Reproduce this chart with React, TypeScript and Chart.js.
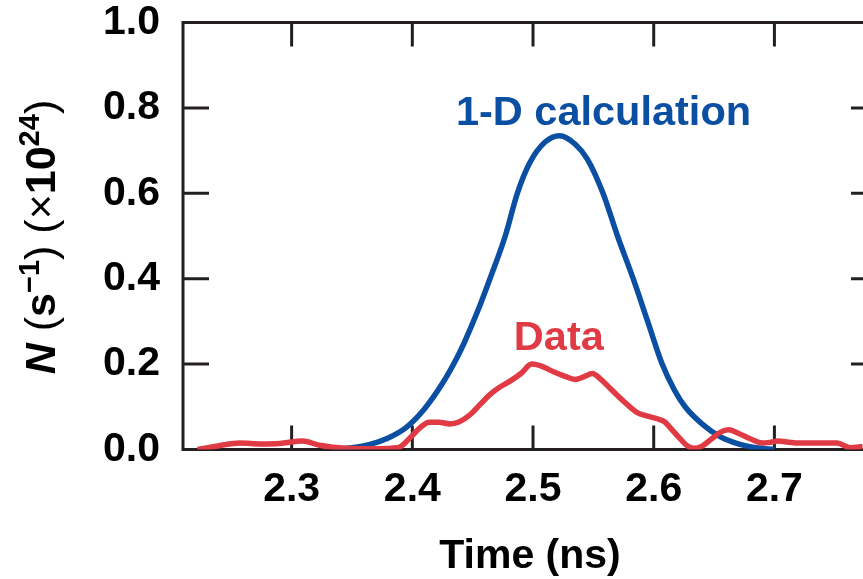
import React, { useEffect, useRef } from "react";
import { Chart, registerables } from "chart.js";

Chart.register(...registerables);

// ---- data ----
const X_TICKS = [2.3, 2.4, 2.5, 2.6, 2.7];
const Y_TICKS = [0, 0.2, 0.4, 0.6, 0.8, 1.0];

const CALC_T = [2.335, 2.35, 2.365, 2.38, 2.395, 2.41, 2.425, 2.437, 2.443, 2.455, 2.465, 2.477, 2.487, 2.497, 2.51, 2.522, 2.535, 2.545, 2.558, 2.57, 2.583, 2.595, 2.607, 2.617, 2.626, 2.64, 2.655, 2.67, 2.685, 2.7];
const CALC_N = [0.0, 0.004, 0.012, 0.027, 0.052, 0.095, 0.155, 0.215, 0.25, 0.33, 0.405, 0.5, 0.6, 0.67, 0.72, 0.735, 0.715, 0.68, 0.6, 0.5, 0.4, 0.3, 0.2, 0.14, 0.1, 0.06, 0.03, 0.013, 0.004, 0.0];

const DATA_T = [2.222, 2.24, 2.257, 2.275, 2.29, 2.309, 2.323, 2.345, 2.37, 2.388, 2.399, 2.406, 2.414, 2.422, 2.431, 2.439, 2.448, 2.456, 2.464, 2.472, 2.481, 2.49, 2.499, 2.508, 2.517, 2.526, 2.535, 2.542, 2.549, 2.556, 2.564, 2.575, 2.586, 2.595, 2.603, 2.609, 2.614, 2.622, 2.628, 2.633, 2.64, 2.648, 2.655, 2.662, 2.67, 2.68, 2.69, 2.697, 2.703, 2.712, 2.72, 2.735, 2.752, 2.763, 2.773];
const DATA_N = [0.0, 0.009, 0.015, 0.013, 0.014, 0.02, 0.01, 0.003, 0.002, 0.004, 0.03, 0.05, 0.064, 0.064, 0.06, 0.065, 0.082, 0.105, 0.128, 0.145, 0.16, 0.178, 0.2, 0.194, 0.182, 0.172, 0.164, 0.17, 0.178, 0.165, 0.143, 0.113, 0.087, 0.078, 0.072, 0.065, 0.05, 0.025, 0.008, 0.003, 0.008, 0.025, 0.04, 0.046, 0.038, 0.025, 0.015, 0.017, 0.02, 0.017, 0.015, 0.015, 0.015, 0.004, 0.007];

const CALC_LABEL = "1-D calculation";
const DATA_LABEL = "Data";
const X_TITLE = "Time (ns)";

const FONT = "'Liberation Sans', Arial, Helvetica, sans-serif";
const BLUE = "#0b4fa2";
const RED = "#e03a45";
const AXIS = "#231f20";

const framePlugin = {
  id: "frame",
  beforeDatasetsDraw(chart: any) {
    const { ctx, chartArea, scales } = chart;
    const { left, right, top, bottom } = chartArea;
    ctx.save();
    ctx.strokeStyle = AXIS;
    ctx.lineWidth = 3;
    ctx.strokeRect(left, top, right - left, bottom - top);
    ctx.beginPath();
    X_TICKS.forEach((v) => {
      const px = scales.x.getPixelForValue(v);
      ctx.moveTo(px, bottom);
      ctx.lineTo(px, bottom - 24);
      ctx.moveTo(px, top);
      ctx.lineTo(px, top + 24);
    });
    Y_TICKS.forEach((v) => {
      const py = scales.y.getPixelForValue(v);
      ctx.moveTo(left, py);
      ctx.lineTo(left + 26, py);
      ctx.moveTo(right, py);
      ctx.lineTo(right - 26, py);
    });
    ctx.stroke();
    ctx.restore();
  },
};

const labelPlugin = {
  id: "labels",
  afterDatasetsDraw(chart: any) {
    const { ctx, scales } = chart;
    ctx.save();
    ctx.textAlign = "center";
    ctx.textBaseline = "alphabetic";
    ctx.font = `bold 41.5px ${FONT}`;
    ctx.fillStyle = BLUE;
    ctx.fillText(CALC_LABEL, scales.x.getPixelForValue(2.5584), scales.y.getPixelForValue(0.76));
    ctx.fillStyle = RED;
    ctx.fillText(DATA_LABEL, scales.x.getPixelForValue(2.5214), scales.y.getPixelForValue(0.233));
    ctx.restore();
  },
};

const Y_TITLE_SEGS = [
  { t: "N", f: `italic bold 43px ${FONT}`, dy: 0 },
  { t: " ", f: `bold 43px ${FONT}`, dy: 0 },
  { t: "(", f: `43px ${FONT}`, dy: 0 },
  { t: "s", f: `bold 43px ${FONT}`, dy: 0 },
  { t: "\u22121", f: `bold 29px ${FONT}`, dy: -16 },
  { t: ")", f: `43px ${FONT}`, dy: 0 },
  { t: " ", f: `bold 43px ${FONT}`, dy: 0 },
  { t: "(", f: `43px ${FONT}`, dy: 0 },
  { t: "\u00d7", f: `43px ${FONT}`, dy: 0 },
  { t: "10", f: `bold 43px ${FONT}`, dy: 0 },
  { t: "24", f: `bold 29px ${FONT}`, dy: -16 },
  { t: ")", f: `43px ${FONT}`, dy: 0 },
];

const yTitlePlugin = {
  id: "ytitle",
  afterDraw(chart: any) {
    const { ctx } = chart;
    ctx.save();
    ctx.fillStyle = "#000";
    ctx.textBaseline = "alphabetic";
    ctx.textAlign = "left";
    let total = 0;
    const widths = Y_TITLE_SEGS.map((s) => {
      ctx.font = s.f;
      const w = ctx.measureText(s.t).width;
      total += w;
      return w;
    });
    ctx.translate(55, 237);
    ctx.rotate(-Math.PI / 2);
    let x = -total / 2;
    Y_TITLE_SEGS.forEach((s, i) => {
      ctx.font = s.f;
      ctx.fillText(s.t, x, s.dy);
      x += widths[i];
    });
    ctx.restore();
  },
};

export default function App() {
  const ref = useRef<HTMLCanvasElement | null>(null);
  useEffect(() => {
    if (!ref.current) return;
    const chart = new Chart(ref.current, {
      type: "line",
      data: {
        datasets: [
          {
            label: "Data",
            data: DATA_T.map((t, i) => ({ x: t, y: DATA_N[i] })),
            borderColor: RED,
            borderWidth: 5.5,
            pointRadius: 0,
            cubicInterpolationMode: "monotone",
            fill: false,
            order: 0,
          },
          {
            label: "1-D calculation",
            data: CALC_T.map((t, i) => ({ x: t, y: CALC_N[i] })),
            borderColor: BLUE,
            borderWidth: 5.5,
            pointRadius: 0,
            cubicInterpolationMode: "monotone",
            fill: false,
            order: 1,
          },
        ],
      },
      options: {
        animation: false,
        responsive: false,
        maintainAspectRatio: false,
        layout: { padding: { top: 22.5, right: 23, left: 0, bottom: 0 } },
        plugins: { legend: { display: false }, tooltip: { enabled: false } },
        scales: {
          x: {
            type: "linear",
            min: 2.21,
            max: 2.785,
            grid: { display: false, drawTicks: false },
            border: { display: false },
            afterBuildTicks: (s: any) => {
              s.ticks = X_TICKS.map((v) => ({ value: v }));
            },
            afterFit: (s: any) => {
              s.height = 129.5;
              s.paddingLeft = 0;
              s.paddingRight = 0;
            },
            ticks: {
              padding: 16,
              color: "#000",
              autoSkip: false,
              maxRotation: 0,
              font: { family: FONT, size: 41, weight: "bold", lineHeight: 1.2 },
              callback: (v: any) => Number(v).toFixed(1),
            },
            title: {
              display: true,
              text: X_TITLE,
              color: "#000",
              font: { family: FONT, size: 41, weight: "bold", lineHeight: 1.1 },
              padding: { top: 0, bottom: 0 },
            },
          },
          y: {
            type: "linear",
            min: 0,
            max: 1,
            grid: { display: false, drawTicks: false },
            border: { display: false },
            afterBuildTicks: (s: any) => {
              s.ticks = Y_TICKS.map((v) => ({ value: v }));
            },
            afterFit: (s: any) => {
              s.width = 183;
              s.paddingTop = 0;
              s.paddingBottom = 0;
            },
            ticks: {
              padding: 23,
              color: "#000",
              autoSkip: false,
              font: { family: FONT, size: 41, weight: "bold", lineHeight: 1.2 },
              callback: (v: any) => Number(v).toFixed(1),
            },
          },
        },
      },
      plugins: [framePlugin, labelPlugin, yTitlePlugin],
    } as any);
    return () => chart.destroy();
  }, []);

  return (
    <div
      style={{
        position: "absolute",
        left: 0,
        top: 0,
        width: 863,
        height: 579,
        overflow: "hidden",
        background: "#fff",
      }}
    >
      <canvas ref={ref} width={900} height={579} style={{ display: "block" }} />
    </div>
  );
}
